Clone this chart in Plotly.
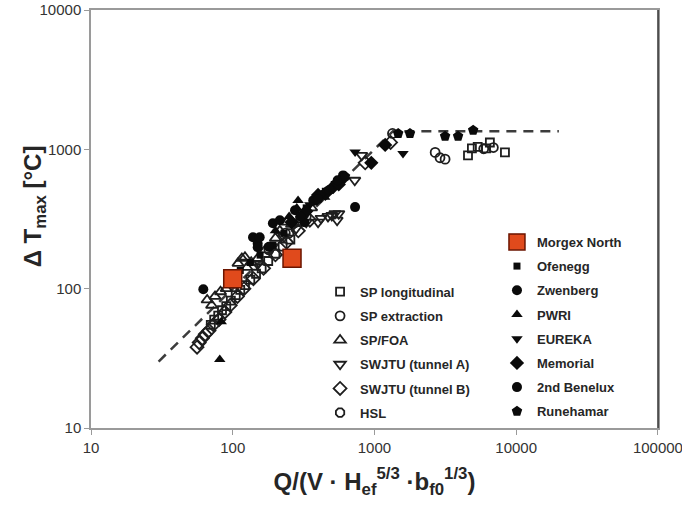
import plotly.graph_objects as go

# ---------------- data ----------------
line_x = [30, 1350, 20000]
line_y = [30, 1350, 1350]

sp_long_x = [70, 74, 79, 84, 90, 97, 105, 113, 122, 133, 146, 160, 178, 200, 225, 255,
             4570, 4870, 5350, 6130, 6520, 8330]
sp_long_y = [55, 60, 64, 70, 75, 82, 90, 98, 106, 116, 128, 140, 158, 178, 200, 225,
             905, 1015, 1040, 1015, 1120, 950]

sp_ext_x = [2680, 2900, 3150, 5900, 6900, 1340, 235, 330, 180]
sp_ext_y = [950, 870, 850, 1010, 1030, 1300, 250, 330, 190]

sp_foa_x = [66, 71, 75, 82, 90, 109, 116, 122, 126, 135, 150, 170, 200, 241, 260, 310, 360, 215]
sp_foa_y = [83, 76, 88, 95, 100, 152, 165, 168, 142, 155, 165, 190, 230, 300, 290, 340, 380, 260]

swjtu_a_x = [400, 420, 500, 526, 545, 560, 726, 813, 150, 190, 230, 280, 330, 470]
swjtu_a_y = [300, 320, 335, 346, 310, 345, 600, 905, 150, 200, 235, 270, 300, 330]

swjtu_b_x = [56, 58, 61, 64, 68, 73, 80, 88, 96, 108, 120, 140, 165, 200, 240, 290, 350, 860, 1300]
swjtu_b_y = [38, 41, 44, 47, 50, 55, 60, 68, 76, 88, 100, 118, 140, 175, 215, 260, 310, 800, 1120]

hsl_x = [250, 300]
hsl_y = [250, 320]

morgex_x = [100, 262]
morgex_y = [118, 165]

ofenegg_x = [113, 133, 156, 192, 380, 450, 520, 230, 330]
ofenegg_y = [135, 154, 174, 205, 420, 500, 560, 250, 380]

zwenberg_x = [62, 139, 150, 155, 150, 192, 215, 275, 370, 430, 600, 320]
zwenberg_y = [99, 234, 210, 234, 198, 295, 310, 365, 430, 470, 650, 300]

pwri_x = [81, 83, 289, 283, 250, 200, 446]
pwri_y = [31, 58, 430, 380, 330, 260, 453]

eureka_x = [730, 1590, 510, 350]
eureka_y = [955, 935, 520, 400]

memorial_x = [950, 1190, 510, 600, 450, 330, 260, 400, 560]
memorial_y = [800, 1075, 535, 620, 480, 360, 300, 470, 560]

benelux_x = [730, 550, 400, 300, 180, 480]
benelux_y = [385, 600, 440, 330, 200, 510]

rune_x = [1470, 1780, 3150, 3890, 4970, 620]
rune_y = [1300, 1300, 1240, 1240, 1370, 640]

x_ticks = [10, 100, 1000, 10000, 100000]
y_ticks = [10, 100, 1000, 10000]

# ---------------- figure ----------------
fig = go.Figure()

fig.add_trace(go.Scatter(x=line_x, y=line_y, mode="lines",
                         line=dict(color="#3c3c3c", width=2.5, dash="10px,7px"),
                         showlegend=False, hoverinfo="skip"))

hollow = [
    ("SP longitudinal", sp_long_x, sp_long_y, "square-open", 8),
    ("SP extraction", sp_ext_x, sp_ext_y, "circle-open", 9),
    ("SP/FOA", sp_foa_x, sp_foa_y, "triangle-up-open", 10),
    ("SWJTU (tunnel A)", swjtu_a_x, swjtu_a_y, "triangle-down-open", 10),
    ("SWJTU (tunnel B)", swjtu_b_x, swjtu_b_y, "diamond-open", 10),
    ("HSL", hsl_x, hsl_y, "octagon-open", 9),
]
for i, (name, xs, ys, sym, sz) in enumerate(hollow):
    fig.add_trace(go.Scatter(
        x=xs, y=ys, mode="markers", name=name, legend="legend",
        legendgroup=name, legendrank=i + 1,
        marker=dict(symbol=sym, size=sz, color="#1e1e1e", line=dict(width=1.8, color="#1e1e1e"))))

filled = [
    ("Ofenegg", ofenegg_x, ofenegg_y, "square", 7),
    ("Zwenberg", zwenberg_x, zwenberg_y, "circle", 10),
    ("PWRI", pwri_x, pwri_y, "triangle-up", 10),
    ("EUREKA", eureka_x, eureka_y, "triangle-down", 10),
    ("Memorial", memorial_x, memorial_y, "diamond", 11),
    ("2nd Benelux", benelux_x, benelux_y, "circle", 10),
    ("Runehamar", rune_x, rune_y, "pentagon", 11),
]
for i, (name, xs, ys, sym, sz) in enumerate(filled):
    fig.add_trace(go.Scatter(
        x=xs, y=ys, mode="markers", name=name, legend="legend2",
        legendgroup=name, legendrank=i + 2,
        marker=dict(symbol=sym, size=sz, color="#0a0a0a", line=dict(width=0))))

fig.add_trace(go.Scatter(
    x=morgex_x, y=morgex_y, mode="markers", name="Morgex North", legend="legend2",
    legendgroup="Morgex North", legendrank=1,
    marker=dict(symbol="square", size=18, color="#e04a1c", line=dict(width=1.5, color="#6b1500"))))

legend_font = dict(family="Liberation Sans, Arial, sans-serif", size=13, color="#262626", weight="bold")

fig.update_layout(
    width=682, height=510,
    margin=dict(l=91, r=24, t=10, b=82, autoexpand=False),
    paper_bgcolor="white", plot_bgcolor="white",
    font=dict(family="Liberation Sans, Arial, sans-serif"),
    legend=dict(x=0.404, y=0.362, xanchor="left", yanchor="top", bgcolor="rgba(0,0,0,0)",
                font=legend_font, traceorder="grouped", tracegroupgap=4.3, borderwidth=0),
    legend2=dict(x=0.716, y=0.481, xanchor="left", yanchor="top", bgcolor="rgba(0,0,0,0)",
                 font=legend_font, traceorder="grouped", tracegroupgap=4.3, borderwidth=0),
    shapes=[dict(type="line", xref="paper", yref="paper", x0=1, x1=1, y0=0, y1=1,
                 line=dict(color="#333333", width=1.5))],
    annotations=[dict(text="Δ T<sub>max</sub> [°C]", xref="paper", yref="paper",
                      x=-0.1, y=0.531, xanchor="center", yanchor="middle", textangle=-90,
                      showarrow=False, font=dict(size=24, color="#262626", weight="bold"))],
)

fig.update_xaxes(type="log", range=[1, 5.0005], tickmode="array", tickvals=x_ticks,
                 ticktext=[str(v) for v in x_ticks], automargin=False, ticklabeloverflow="allow",
                 showgrid=False, zeroline=False, showline=True, linecolor="#9a9a9a", linewidth=1.5,
                 mirror=True, ticks="outside", ticklen=5, tickcolor="#9a9a9a",
                 tickfont=dict(size=15, color="#333333"),
                 title=dict(text="Q/(V · H<sub>ef</sub><sup>5/3</sup> ·b<sub>f0</sub><sup>1/3</sup>)",
                            font=dict(size=24, color="#262626", weight="bold"), standoff=18))
fig.update_yaxes(type="log", range=[1, 4], tickmode="array", tickvals=y_ticks,
                 ticktext=[str(v) for v in y_ticks], automargin=False,
                 showgrid=False, zeroline=False, showline=True, linecolor="#9a9a9a", linewidth=1.5,
                 mirror=True, ticks="outside", ticklen=5, tickcolor="#9a9a9a",
                 tickfont=dict(size=15, color="#333333"))

fig.write_html("out.html")
